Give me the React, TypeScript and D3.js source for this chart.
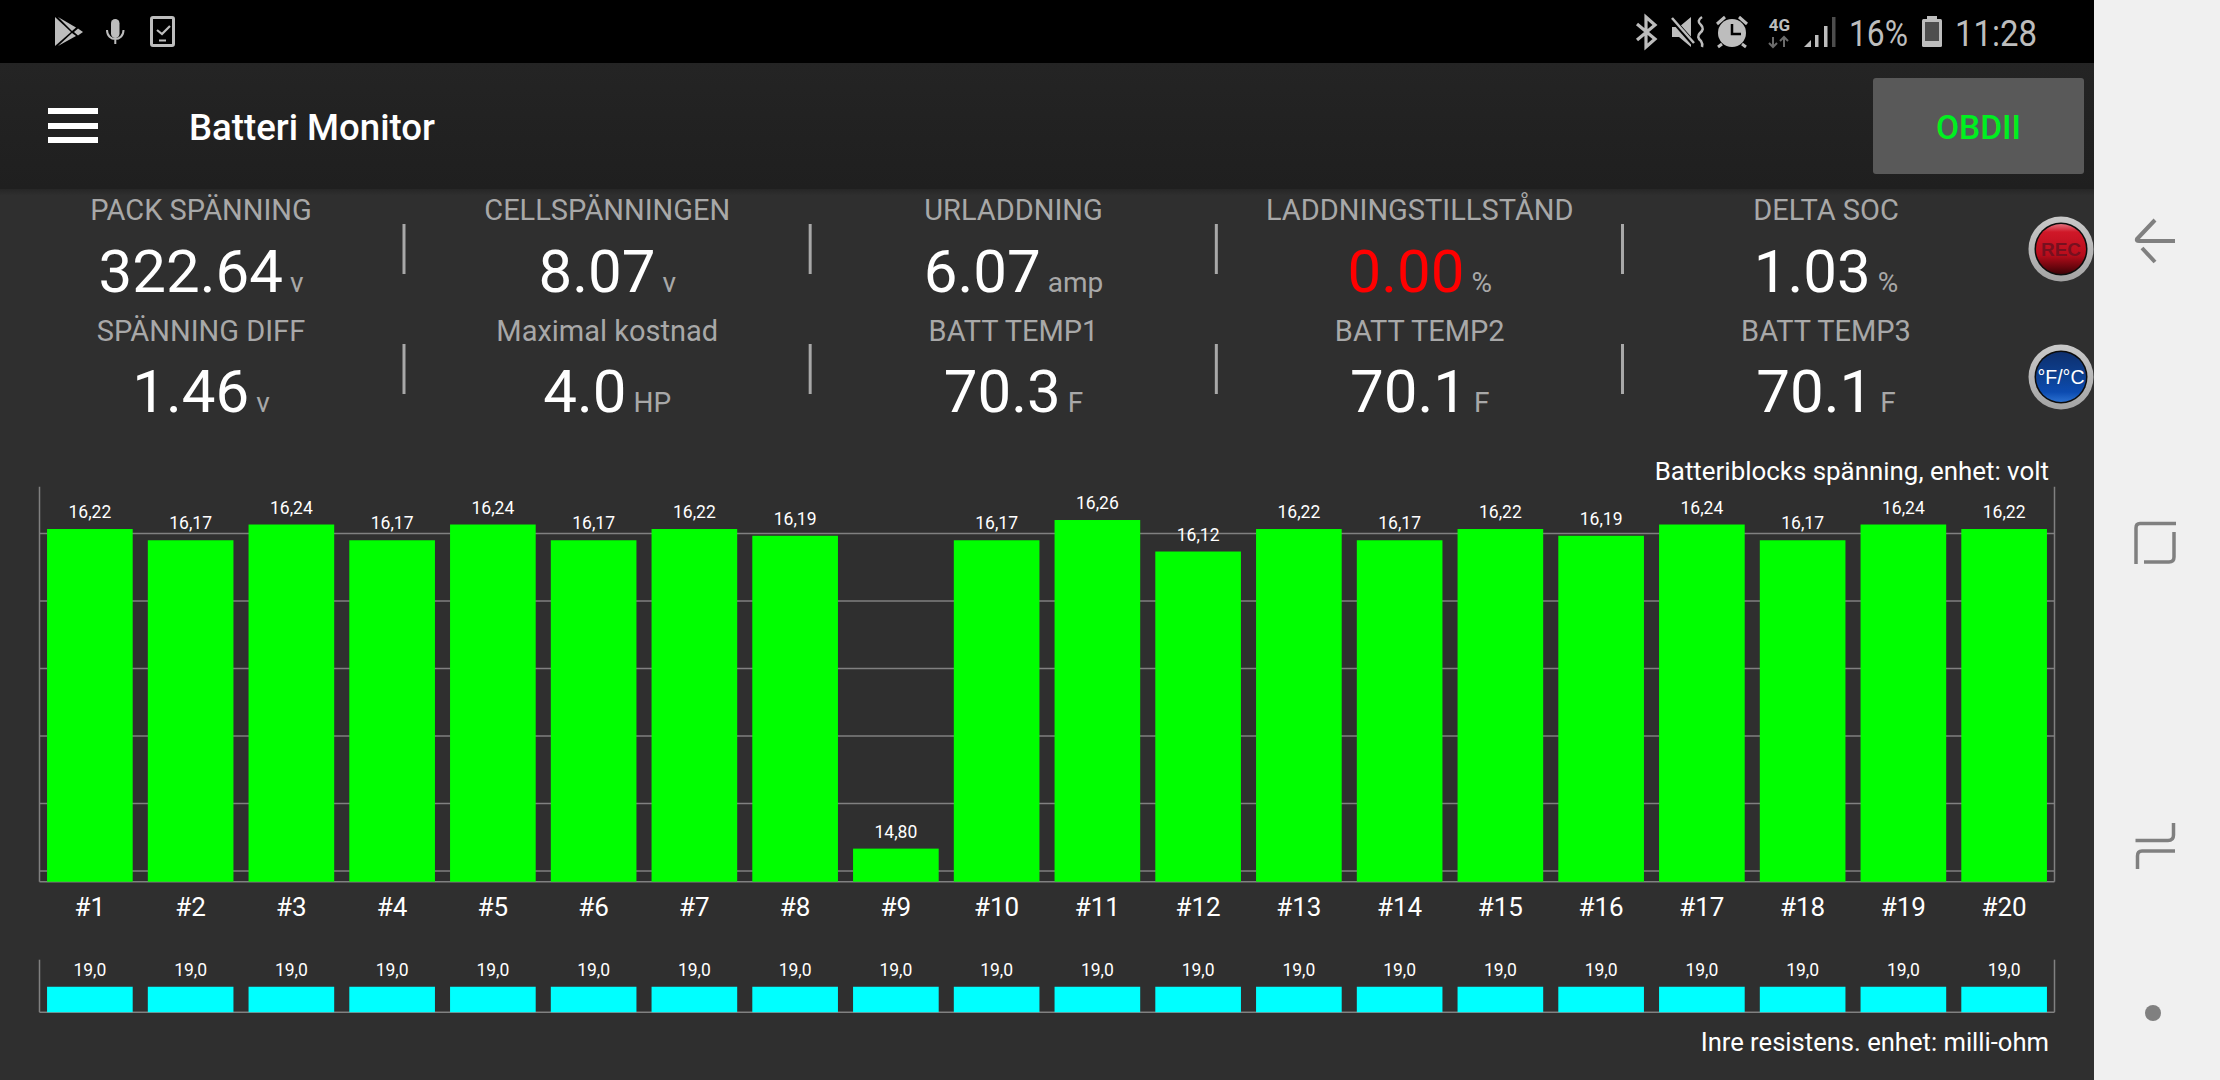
import React from "react";
import * as d3 from "d3";

const cells = ["#1","#2","#3","#4","#5","#6","#7","#8","#9","#10","#11","#12","#13","#14","#15","#16","#17","#18","#19","#20"];
const voltages = [16.22,16.17,16.24,16.17,16.24,16.17,16.22,16.19,14.80,16.17,16.26,16.12,16.22,16.17,16.22,16.19,16.24,16.17,16.24,16.22];
const resistances = [19,19,19,19,19,19,19,19,19,19,19,19,19,19,19,19,19,19,19,19];
const voltageTicks = [14.7,15.0,15.3,15.6,15.9,16.2];
const voltageDomain = [14.653,16.408];
const resistanceDomain = [0,39.2];

const topLabels = ["PACK SPÄNNING","CELLSPÄNNINGEN","URLADDNING","LADDNINGSTILLSTÅND","DELTA SOC"];
const topValues = ["322.64","8.07","6.07","0.00","1.03"];
const topUnits = ["v","v","amp","%","%"];
const topColors = ["#ffffff","#ffffff","#ffffff","#ff0000","#ffffff"];
const bottomLabels = ["SPÄNNING DIFF","Maximal kostnad","BATT TEMP1","BATT TEMP2","BATT TEMP3"];
const bottomValues = ["1.46","4.0","70.3","70.1","70.1"];
const bottomUnits = ["v","HP","F","F","F"];

const FONT = "Roboto, sans-serif";
const locale = d3.formatLocale({ decimal: ",", thousands: ".", grouping: [3], currency: ["", ""] });
const fmt2 = locale.format(".2f");
const fmt1 = locale.format(".1f");

const WIDTH = 2220, HEIGHT = 1080, APP_W = 2094;
const LEFT = 39.5, RIGHT = 2054.5;
const V_BASE = 881.7, V_TOP = 486.7, R_BASE = 1012.2, R_TOP = 959.7;

const x = d3.scaleBand<string>().domain(cells).range([LEFT, RIGHT]).paddingInner(0.15).paddingOuter(0.075);
const yV = d3.scaleLinear().domain(voltageDomain).range([V_BASE, V_TOP]);
const yR = d3.scaleLinear().domain(resistanceDomain).range([R_BASE, R_TOP]);
const colX = d3.scaleLinear().domain([0, 4]).range([201, 1826]);
const sepX = d3.scaleLinear().domain([0, 3]).range([404, 1622.5]);

function Metric({ i, label, value, unit, color, labelY, valueY }: any) {
  const cx = colX(i);
  return (
    <g fontFamily={FONT}>
      <text x={cx} y={labelY} textAnchor="middle" fontSize={29} fill="#a8a8a8">{label}</text>
      <text x={cx} y={valueY} textAnchor="middle">
        <tspan fontSize={60} fill={color}>{value}</tspan>
        <tspan dx={7} fontSize={28} fill="#a8a8a8">{unit}</tspan>
      </text>
    </g>
  );
}

const CG = "#bdbdbd";

function StatusIcons() {
  return (
    <g>
      {/* play store */}
      <path d="M55 17 L71 32 L55 46 Z" fill={CG} />
      <path d="M58 17 L76 27.5 L72 31 Z" fill={CG} />
      <path d="M58 46 L76 36 L72 33 Z" fill={CG} />
      <path d="M74 32 L78 28.5 L83 32 L78 35.5 Z" fill={CG} />
      {/* mic */}
      <rect x={111} y={19} width={8.5} height={19} rx={4.2} fill={CG} />
      <path d="M107 30 C107 42 123.500 42 123.500 30 M115.300 38 V44" fill="none" stroke={CG} strokeWidth={2} />
      {/* tablet check */}
      <rect x={151.500} y={17.500} width={22} height={28} rx={1.500} fill="none" stroke={CG} strokeWidth={3} />
      <path d="M157 30 L162 34 L170 26" fill="none" stroke={CG} strokeWidth={2.200} />
      <path d="M159 40.500 H166" stroke={CG} strokeWidth={2} />
      {/* bluetooth */}
      <path d="M1637 24 L1655 39 L1646 47 V17 L1655 25 L1637 40" fill="none" stroke={CG} strokeWidth={3.200} />
      {/* muted vibrate */}
      <path d="M1672 27 H1679 L1691 17 V47 L1679 37 H1672 Z" fill={CG} />
      <path d="M1672 19 L1694 44" stroke="#000" strokeWidth={5} />
      <path d="M1672 18 L1694 43" stroke={CG} strokeWidth={2.500} />
      <path d="M1702 17 Q1696 21 1701 25 Q1705 29 1700 33 Q1696 37 1701 41 Q1703 44 1702 47" fill="none" stroke={CG} strokeWidth={2.500} />
      {/* alarm */}
      <circle cx={1732} cy={33} r={14} fill={CG} />
      <path d="M1732 24 V34 H1741" fill="none" stroke="#000" strokeWidth={2.500} />
      <path d="M1717 24 L1725 17 M1747 24 L1739 17 M1722 44 L1718 47 M1742 44 L1746 47" stroke={CG} strokeWidth={3} />
      {/* 4G */}
      <text x={1779.500} y={31} textAnchor="middle" fontFamily={FONT} fontWeight={700} fontSize={17} fill={CG}>4G</text>
      <path d="M1773 37 V46 M1769 43 L1773 47 L1777 43" fill="none" stroke="#6b6b6b" strokeWidth={2} />
      <path d="M1784 47 V38 M1780 41 L1784 37 L1788 41" fill="none" stroke="#6b6b6b" strokeWidth={2} />
      {/* signal */}
      <path d="M1804 47 L1811 40 V47 Z" fill={CG} />
      <rect x={1815} y={35} width={3.500} height={12} fill={CG} />
      <rect x={1824} y={26} width={3.500} height={21} fill={CG} />
      <rect x={1832} y={17} width={3.500} height={30} fill="#4d4d4d" />
      {/* text */}
      <text x={1849} y={46} fontFamily={FONT} fontSize={36} fill={CG} textLength={59} lengthAdjust="spacingAndGlyphs">16%</text>
      {/* battery */}
      <rect x={1922} y={19} width={20} height={28} rx={1.500} fill={CG} />
      <rect x={1927} y={16} width={10} height={4} fill={CG} />
      <rect x={1925} y={22} width={14} height={19} fill="#4f4f4f" />
      <text x={1955} y={46} fontFamily={FONT} fontSize={36} fill={CG} textLength={82} lengthAdjust="spacingAndGlyphs">11:28</text>
    </g>
  );
}

function NavBar() {
  const c = "#808080";
  return (
    <g>
      <rect x={APP_W} y={0} width={WIDTH - APP_W} height={HEIGHT} fill="#f0f0f0" />
      <path d="M2155 220 L2137 239 Q2136 241 2139 241 H2175" fill="none" stroke={c} strokeWidth={4} />
      <path d="M2142 248 L2155 262" fill="none" stroke={c} strokeWidth={4} />
      <path d="M2176 523.500 H2140 Q2136 523.500 2136 528 V564" fill="none" stroke={c} strokeWidth={3.500} />
      <path d="M2174 532 V557 Q2174 562 2169 562 H2144" fill="none" stroke={c} strokeWidth={3.500} />
      <path d="M2173.500 823 V835 Q2173.500 840.500 2168 840.500 H2135.500" fill="none" stroke={c} strokeWidth={3.500} />
      <path d="M2175 851 H2142 Q2137.500 851 2137.500 856 V869" fill="none" stroke={c} strokeWidth={3.500} />
      <circle cx={2153} cy={1013} r={8} fill={c} />
    </g>
  );
}

function RoundButton({ cy, id, stops, text, textFill, fontSize, bold }: any) {
  const cx = 2061;
  return (
    <g>
      <defs>
        <linearGradient id={id} x1="0" x2="0" y1="0" y2="1">
          {stops.map((s: any, k: number) => <stop key={k} offset={s[0]} stopColor={s[1]} />)}
        </linearGradient>
        <linearGradient id={id + "r"} x1="0" x2="0" y1="0" y2="1">
          <stop offset="0" stopColor="#c9c9c9" />
          <stop offset="1" stopColor="#a4a4a4" />
        </linearGradient>
      </defs>
      <circle cx={cx} cy={cy} r={32.500} fill={`url(#${id}r)`} />
      <circle cx={cx} cy={cy} r={26.500} fill="#0c0c0c" />
      <circle cx={cx} cy={cy} r={25} fill={`url(#${id})`} />
      <text x={cx} y={cy + 6.500} textAnchor="middle" fontFamily="'Liberation Sans', sans-serif" fontWeight={bold ? 700 : 400} fontSize={fontSize} fill={textFill}>{text}</text>
    </g>
  );
}

export default function App() {
  const bw = x.bandwidth();
  return (
    <svg width={WIDTH} height={HEIGHT} viewBox={`0 0 ${WIDTH} ${HEIGHT}`} style={{ position: "absolute", left: 0, top: 0, display: "block" }}>
      <defs>
        <linearGradient id="bar" x1="0" x2="0" y1="0" y2="1">
          <stop offset="0" stopColor="#242424" />
          <stop offset="1" stopColor="#1f1f1f" />
        </linearGradient>
        <linearGradient id="shadow" x1="0" x2="0" y1="0" y2="1">
          <stop offset="0" stopColor="#262626" />
          <stop offset="1" stopColor="#303030" />
        </linearGradient>
      </defs>
      <rect width={WIDTH} height={HEIGHT} fill="#2f2f2f" />
      <rect y={189} width={APP_W} height={7} fill="url(#shadow)" />
      <rect width={APP_W} height={63} fill="#000" />
      <rect y={63} width={APP_W} height={126} fill="url(#bar)" />
      <StatusIcons />

      <rect x={48} y={108} width={50} height={6} fill="#fff" />
      <rect x={48} y={123} width={50} height={6} fill="#fff" />
      <rect x={48} y={137} width={50} height={6} fill="#fff" />
      <text x={189} y={140} fontFamily={FONT} fontWeight={500} fontSize={36.6} fill="#fff">Batteri Monitor</text>
      <rect x={1873} y={78} width={211} height={96} rx={3} fill="#595959" />
      <text x={1978.500} y={138.500} textAnchor="middle" fontFamily={FONT} fontWeight={500} fontSize={33.500} fill="#00f020">OBDII</text>

      {topLabels.map((l, i) => (
        <Metric key={l} i={i} label={l} value={topValues[i]} unit={topUnits[i]} color={topColors[i]} labelY={220} valueY={292} />
      ))}
      {bottomLabels.map((l, i) => (
        <Metric key={l} i={i} label={l} value={bottomValues[i]} unit={bottomUnits[i]} color="#ffffff" labelY={340.500} valueY={412} />
      ))}
      {d3.range(4).map((i) => (
        <g key={i} stroke="#a8a8a8" strokeWidth={3}>
          <line x1={sepX(i)} x2={sepX(i)} y1={224} y2={274} />
          <line x1={sepX(i)} x2={sepX(i)} y1={344} y2={394} />
        </g>
      ))}
      <RoundButton cy={249} id="rec" text="REC" textFill="#76101f" fontSize={19} bold
        stops={[[0, "#e26f7c"], [0.16, "#d01828"], [0.62, "#b80c1b"], [1, "#3e0206"]]} />
      <RoundButton cy={377} id="fc" text="°F/°C" textFill="#ffffff" fontSize={19.500}
        stops={[[0, "#0d2f6e"], [0.45, "#0d3f8e"], [0.8, "#0c4bb0"], [1, "#2a6fd0"]]} />

      {/* voltage chart */}
      <text x={2049} y={480} textAnchor="end" fontFamily={FONT} fontSize={25.900} fill="#fff">Batteriblocks spänning, enhet: volt</text>
      <g stroke="#808080" strokeWidth={1.500}>
        {voltageTicks.map((t) => <line key={t} x1={LEFT} x2={RIGHT} y1={yV(t)} y2={yV(t)} />)}
        <line x1={LEFT} x2={LEFT} y1={V_TOP} y2={V_BASE} />
        <line x1={RIGHT} x2={RIGHT} y1={V_TOP} y2={V_BASE} />
        <line x1={LEFT} x2={RIGHT} y1={V_BASE} y2={V_BASE} />
      </g>
      {voltages.map((v, i) => (
        <rect key={i} x={x(cells[i])} y={yV(v)} width={bw} height={V_BASE - yV(v)} fill="#00ff00" />
      ))}
      <g fontFamily={FONT} fill="#fff" textAnchor="middle">
        {voltages.map((v, i) => (
          <text key={i} x={x(cells[i])! + bw / 2} y={yV(v) - 11} fontSize={17.500}>{fmt2(v)}</text>
        ))}
        {cells.map((c) => (
          <text key={c} x={x(c)! + bw / 2} y={915.500} fontSize={26}>{c}</text>
        ))}
      </g>

      {/* resistance chart */}
      <g stroke="#808080" strokeWidth={1.500}>
        <line x1={LEFT} x2={LEFT} y1={R_TOP} y2={R_BASE} />
        <line x1={RIGHT} x2={RIGHT} y1={R_TOP} y2={R_BASE} />
        <line x1={LEFT} x2={RIGHT} y1={R_BASE} y2={R_BASE} />
      </g>
      {resistances.map((v, i) => (
        <rect key={i} x={x(cells[i])} y={yR(v)} width={bw} height={yR(0) - yR(v)} fill="#00ffff" />
      ))}
      <g fontFamily={FONT} fill="#fff" textAnchor="middle">
        {resistances.map((v, i) => (
          <text key={i} x={x(cells[i])! + bw / 2} y={yR(v) - 11} fontSize={17.500}>{fmt1(v)}</text>
        ))}
      </g>
      <text x={2049} y={1051} textAnchor="end" fontFamily={FONT} fontSize={25.600} fill="#fff">Inre resistens. enhet: milli-ohm</text>

      <NavBar />
    </svg>
  );
}
